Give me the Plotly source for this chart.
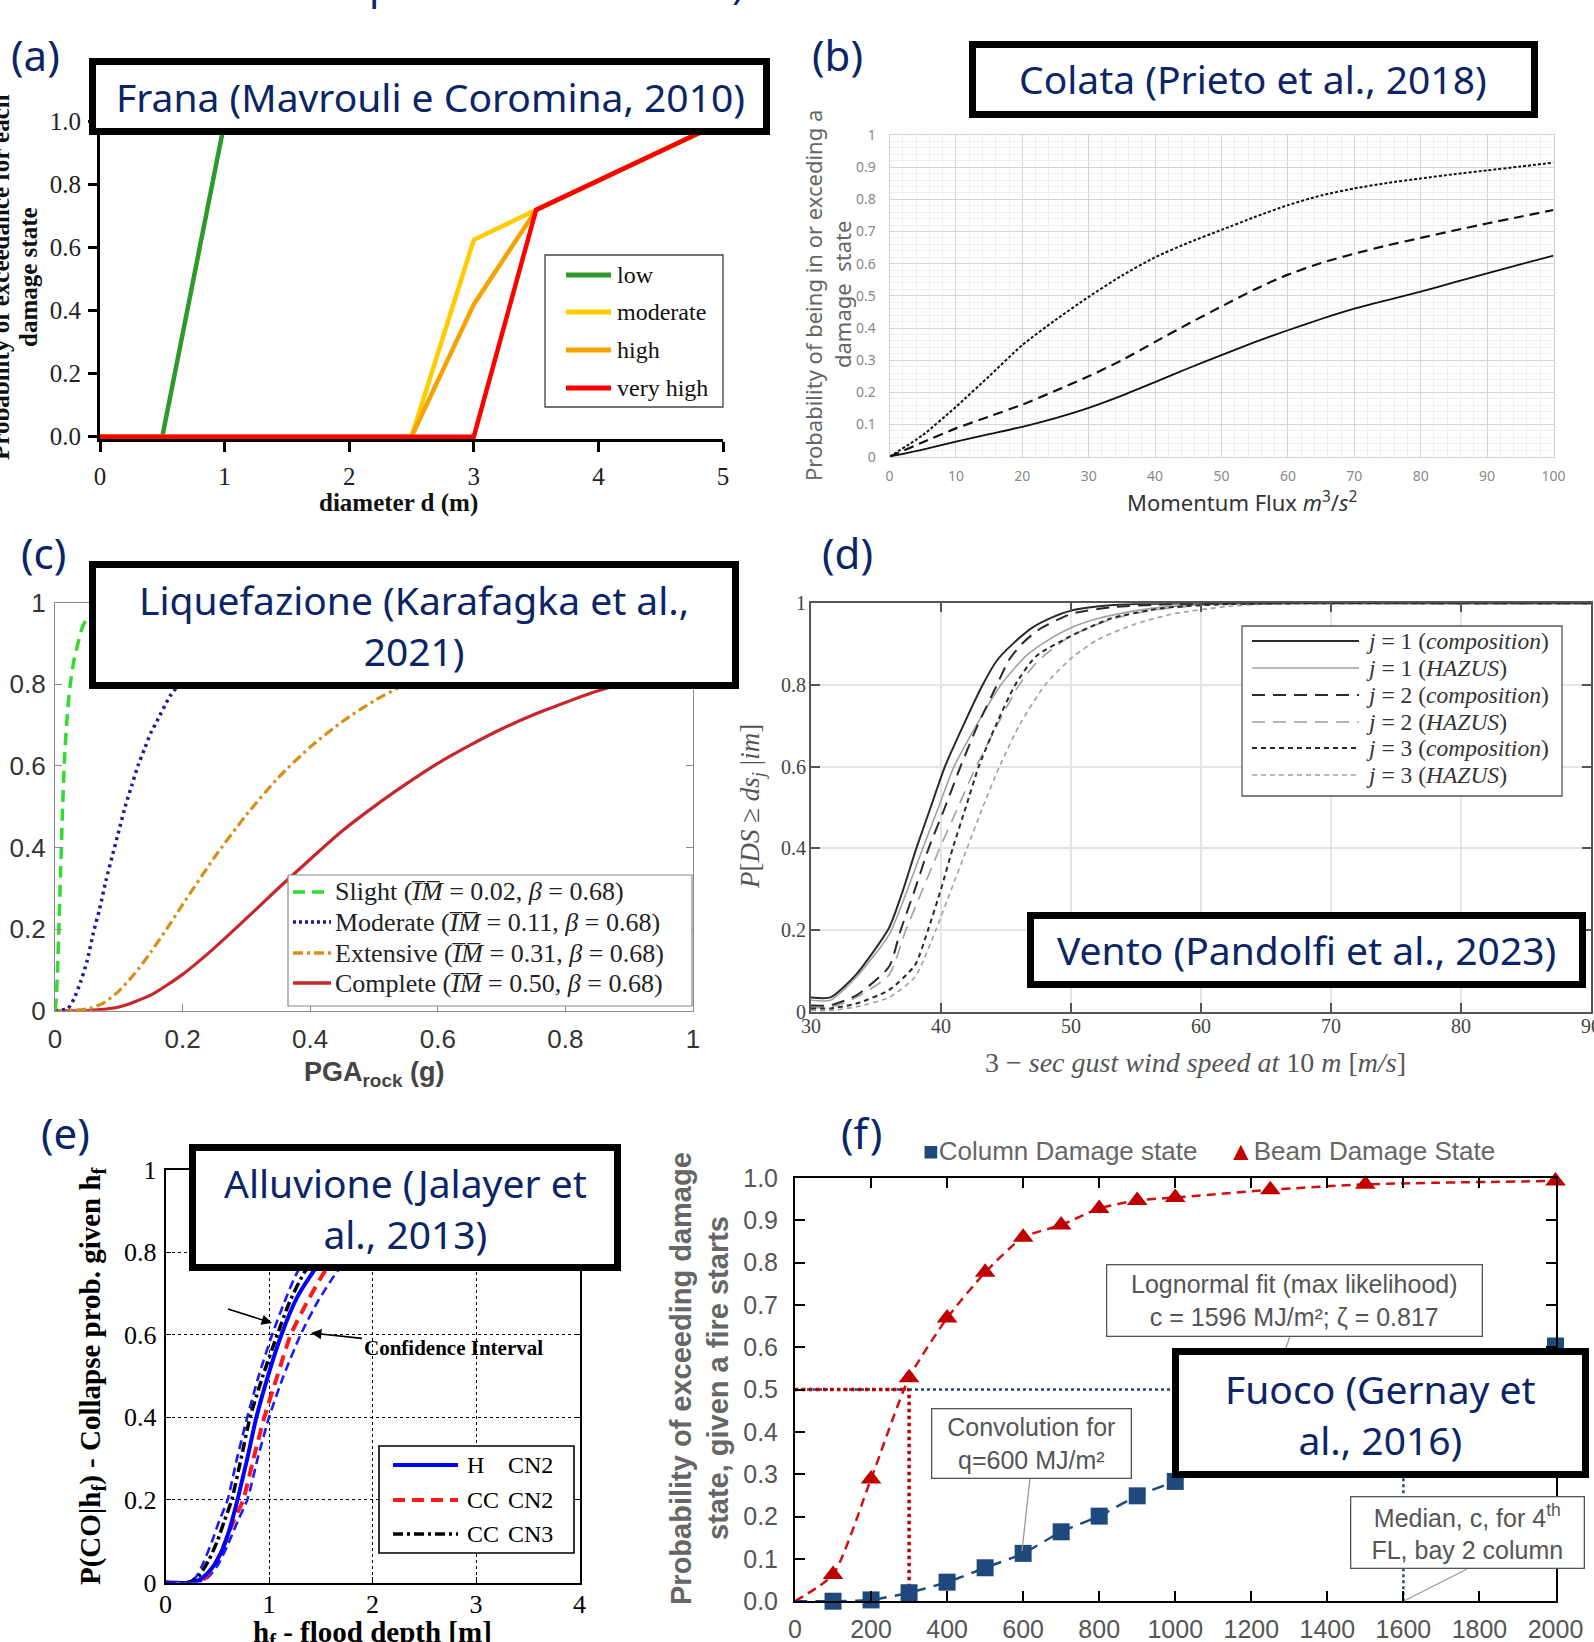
import plotly.graph_objects as go

W, H = 1594, 1642
NAVY = "#0b2566"
SERIF = "Liberation Serif, Times New Roman, serif"
SANS = "Liberation Sans, Arial, sans-serif"
TSANS = "Noto Sans, Open Sans, sans-serif"

# ======================= DATA =======================
# (a) Frana (Mavrouli e Coromina, 2010)
a_low_x = [0, 0.5, 1.0, 5.0]
a_low_y = [0.0, 0.0, 1.0, 1.0]
a_mod_x = [0, 2.5, 3.0, 3.5, 5.0]
a_mod_y = [0.0, 0.0, 0.625, 0.72, 1.0]
a_high_x = [0, 2.5, 3.0, 3.5, 5.0]
a_high_y = [0.0, 0.0, 0.42, 0.72, 1.0]
a_vhigh_x = [0, 3.0, 3.5, 5.0]
a_vhigh_y = [0.0, 0.0, 0.72, 1.0]
a_labels = ["low", "moderate", "high", "very high"]
a_colors = ["#2e9a2a", "#ffcc00", "#f5a300", "#ff0000"]

# (b) Colata (Prieto et al., 2018)
b_x = [0, 5, 10, 15, 20, 25, 30, 35, 40, 45, 50, 55, 60, 65, 70, 75, 80, 85, 90, 95, 100]
b_ds1 = [0, 0.022, 0.047, 0.07, 0.093, 0.12, 0.152, 0.19, 0.232, 0.275, 0.316, 0.356, 0.393,
         0.428, 0.46, 0.487, 0.513, 0.542, 0.57, 0.598, 0.625]
b_ds2 = [0, 0.045, 0.088, 0.125, 0.162, 0.205, 0.25, 0.3, 0.357, 0.413, 0.467, 0.52, 0.566,
         0.602, 0.631, 0.657, 0.68, 0.703, 0.725, 0.746, 0.767]
b_ds3 = [0, 0.067, 0.155, 0.25, 0.347, 0.425, 0.497, 0.563, 0.62, 0.665, 0.705, 0.745, 0.782,
         0.812, 0.834, 0.851, 0.865, 0.878, 0.89, 0.902, 0.914]

# (c) Liquefazione (Karafagka et al., 2021)
c_slight_x = [0, 0.002, 0.004, 0.006, 0.009, 0.012, 0.015, 0.019, 0.024, 0.03, 0.036, 0.043, 0.05, 0.06, 0.08, 0.1, 0.2, 1.0]
c_slight_y = [0, 0.03, 0.1, 0.2, 0.35, 0.5, 0.62, 0.72, 0.8, 0.86, 0.9, 0.94, 0.96, 0.975, 0.99, 0.995, 1.0, 1.0]
c_mod_x = [0, 0.02, 0.03, 0.04, 0.05, 0.06, 0.07, 0.08, 0.09, 0.1, 0.11, 0.12, 0.13, 0.14, 0.15, 0.16, 0.18, 0.2, 0.25, 0.3, 0.4, 1.0]
c_mod_y = [0, 0.005, 0.03, 0.07, 0.12, 0.19, 0.25, 0.32, 0.38, 0.44, 0.5, 0.55, 0.6, 0.64, 0.68, 0.71, 0.77, 0.81, 0.89, 0.93, 0.97, 1.0]
c_ext_x = [0, 0.05, 0.075, 0.1, 0.125, 0.15, 0.175, 0.2, 0.25, 0.3, 0.35, 0.4, 0.45, 0.5, 0.55, 0.6, 0.7, 0.8, 0.9, 1.0]
c_ext_y = [0, 0.004, 0.018, 0.048, 0.091, 0.143, 0.2, 0.26, 0.376, 0.48, 0.571, 0.646, 0.708, 0.759, 0.8, 0.83, 0.88, 0.915, 0.94, 0.955]
c_comp_x = [0, 0.05, 0.1, 0.15, 0.2, 0.25, 0.3, 0.35, 0.4, 0.45, 0.5, 0.55, 0.6, 0.65, 0.7, 0.75, 0.8, 0.85, 0.9, 0.95, 1.0]
c_comp_y = [0, 0.0004, 0.009, 0.038, 0.089, 0.154, 0.226, 0.3, 0.371, 0.44, 0.5, 0.555, 0.606, 0.65, 0.69, 0.725, 0.755, 0.783, 0.806, 0.827, 0.846]
c_labels = ["Slight (<i>I\u0305M\u0305</i> = 0.02, <i>\u03b2</i> = 0.68)",
            "Moderate (<i>I\u0305M\u0305</i> = 0.11, <i>\u03b2</i> = 0.68)",
            "Extensive (<i>I\u0305M\u0305</i> = 0.31, <i>\u03b2</i> = 0.68)",
            "Complete (<i>I\u0305M\u0305</i> = 0.50, <i>\u03b2</i> = 0.68)"]

# (d) Vento (Pandolfi et al., 2023)
d_j1c_x = [30, 31.5, 33.5, 36, 37, 38.1, 39.2, 40.3, 41.7, 43.2, 44.3, 45.5, 47, 48.5, 50, 52, 55, 60, 90]
d_j1c_y = [0.035, 0.035, 0.092, 0.205, 0.29, 0.4, 0.5, 0.6, 0.7, 0.8, 0.86, 0.9, 0.94, 0.965, 0.982, 0.992, 0.998, 1.0, 1.0]
d_j1h_x = [30, 31.5, 33.5, 36, 37.2, 38.6, 39.8, 41.0, 42.7, 44.6, 46.5, 48, 50, 52, 55, 58, 62, 90]
d_j1h_y = [0.028, 0.028, 0.085, 0.188, 0.28, 0.4, 0.5, 0.6, 0.7, 0.8, 0.87, 0.905, 0.94, 0.962, 0.982, 0.993, 0.999, 1.0]
d_j2c_x = [30, 31.5, 33.5, 36, 36.9, 38.0, 39.05, 40.3, 41.5, 42.8, 44.3, 45.2, 46.2, 47.5, 50, 53, 57, 62, 90]
d_j2c_y = [0.015, 0.016, 0.04, 0.11, 0.2, 0.3, 0.4, 0.5, 0.6, 0.7, 0.8, 0.86, 0.9, 0.935, 0.974, 0.99, 0.997, 1.0, 1.0]
d_j2h_x = [30, 31.5, 33.5, 36, 37.3, 38.6, 39.9, 41.3, 42.7, 44.3, 46.0, 47.5, 50, 53, 56, 60, 65, 90]
d_j2h_y = [0.01, 0.011, 0.035, 0.09, 0.2, 0.3, 0.4, 0.5, 0.6, 0.7, 0.8, 0.86, 0.92, 0.96, 0.982, 0.995, 1.0, 1.0]
d_j3c_x = [30, 31.5, 33.5, 36, 38, 39.0, 40.0, 40.9, 41.9, 42.9, 44.2, 45.7, 47.3, 50, 53, 57, 62, 90]
d_j3c_y = [0.008, 0.008, 0.02, 0.053, 0.114, 0.2, 0.3, 0.4, 0.5, 0.6, 0.7, 0.8, 0.87, 0.92, 0.962, 0.988, 0.998, 1.0]
d_j3h_x = [30, 31.5, 33.5, 36, 38, 39.6, 40.8, 42.0, 43.2, 44.5, 46.0, 48.0, 50, 52, 55, 58, 62, 66, 90]
d_j3h_y = [0.003, 0.003, 0.012, 0.035, 0.085, 0.2, 0.3, 0.4, 0.5, 0.6, 0.7, 0.8, 0.865, 0.91, 0.95, 0.975, 0.992, 1.0, 1.0]
d_labels = ["<i>j</i> = 1 (<i>composition</i>)", "<i>j</i> = 1 (<i>HAZUS</i>)",
            "<i>j</i> = 2 (<i>composition</i>)", "<i>j</i> = 2 (<i>HAZUS</i>)",
            "<i>j</i> = 3 (<i>composition</i>)", "<i>j</i> = 3 (<i>HAZUS</i>)"]

# (e) Alluvione (Jalayer et al., 2013)
e_h_x = [0, 0.25, 0.35, 0.45, 0.55, 0.62, 0.695, 0.79, 0.878, 0.99, 1.12, 1.27, 1.42, 1.6, 1.8, 2.1, 2.5, 3, 4]
e_h_y = [0, 0, 0.01, 0.035, 0.08, 0.13, 0.2, 0.3, 0.4, 0.5, 0.6, 0.69, 0.75, 0.81, 0.86, 0.91, 0.95, 0.975, 0.995]
e_lo_x = [0, 0.22, 0.3, 0.37, 0.45, 0.52, 0.6, 0.69, 0.79, 0.9, 1.03, 1.15, 1.27, 1.45, 1.7, 2.0, 2.5, 3, 4]
e_lo_y = [0, 0, 0.015, 0.05, 0.1, 0.15, 0.2, 0.3, 0.4, 0.5, 0.6, 0.68, 0.75, 0.82, 0.88, 0.93, 0.97, 0.985, 0.998]
e_hi_x = [0, 0.3, 0.4, 0.5, 0.6, 0.7, 0.79, 0.89, 1.0, 1.14, 1.305, 1.47, 1.65, 1.9, 2.2, 2.6, 3, 4]
e_hi_y = [0, 0, 0.01, 0.04, 0.09, 0.15, 0.2, 0.3, 0.4, 0.5, 0.6, 0.68, 0.75, 0.82, 0.88, 0.93, 0.96, 0.99]
e_cc2_x = [0, 0.28, 0.38, 0.48, 0.58, 0.66, 0.75, 0.85, 0.955, 1.08, 1.21, 1.37, 1.53, 1.75, 2.0, 2.4, 3, 4]
e_cc2_y = [0, 0, 0.01, 0.045, 0.1, 0.15, 0.2, 0.3, 0.4, 0.5, 0.6, 0.68, 0.75, 0.82, 0.87, 0.93, 0.97, 0.99]
e_cc3_x = [0, 0.22, 0.32, 0.42, 0.5, 0.57, 0.64, 0.73, 0.817, 0.94, 1.08, 1.2, 1.34, 1.55, 1.8, 2.2, 2.8, 4]
e_cc3_y = [0, 0, 0.015, 0.055, 0.1, 0.15, 0.2, 0.3, 0.4, 0.5, 0.6, 0.68, 0.75, 0.82, 0.88, 0.93, 0.97, 0.995]

# (f) Fuoco (Gernay et al., 2016)
f_x = [100, 200, 300, 400, 500, 600, 700, 800, 900, 1000, 1250, 1500, 2000]
f_beam = [0.063, 0.289, 0.528, 0.669, 0.777, 0.86, 0.889, 0.928, 0.947, 0.954, 0.972, 0.985, 0.993]
f_col = [0.0, 0.003, 0.02, 0.045, 0.079, 0.113, 0.164, 0.201, 0.249, 0.283, 0.37, 0.47, 0.603]
f_median_beam = 300
f_median_col = 1600
f_half = 0.5

# ======================= HELPERS =======================
def PX(x):
    return x / W


def PY(y):
    return 1 - y / H


def dom(p0, v0, p1, v1, lo, hi, vertical=False):
    s = (p1 - p0) / (v1 - v0)
    a = p0 + (lo - v0) * s
    b = p0 + (hi - v0) * s
    if vertical:
        return sorted([PY(a), PY(b)])
    return sorted([PX(a), PX(b)])


annotations = []
shapes = []


def ann(text, x, y, size, color="#000", family=SERIF, xanchor="center", yanchor="middle", angle=0, **kw):
    d = dict(text=text, x=PX(x), y=PY(y), xref="paper", yref="paper", showarrow=False,
             font=dict(size=size, color=color, family=family), xanchor=xanchor, yanchor=yanchor,
             textangle=angle)
    d.update(kw)
    annotations.append(d)


def seg(x0, x1, y0, y1, color, width, dash="solid"):
    shapes.append(dict(type="line", xref="paper", yref="paper", x0=PX(x0), x1=PX(x1), y0=PY(y0), y1=PY(y1),
                       line=dict(color=color, width=width, dash=dash), layer="above"))


def rect(x0, x1, y0, y1, color, width, fill="white"):
    shapes.append(dict(type="rect", xref="paper", yref="paper", x0=PX(x0), x1=PX(x1), y0=PY(y1), y1=PY(y0),
                       line=dict(color=color, width=width), fillcolor=fill, layer="above"))


def tbox(x0, x1, y0, y1, lw=7):
    h = lw / 2
    rect(x0 + h, x1 - h, y0 + h, y1 - h, "black", lw)


fig = go.Figure()


def line(x, y, ax, color, width, dash="solid", shape="linear", name=""):
    fig.add_trace(go.Scatter(x=x, y=y, xaxis="x" + ax, yaxis="y" + ax, mode="lines", name=name,
                             line=dict(color=color, width=width, dash=dash, shape=shape,
                                       smoothing=0.6 if shape == "spline" else None),
                             showlegend=False, hoverinfo="skip"))

# ======================= TRACES =======================
# (a)
line(a_low_x, a_low_y, "", a_colors[0], 4.5, name=a_labels[0])
line(a_mod_x, a_mod_y, "", a_colors[1], 4.5, name=a_labels[1])
line(a_high_x, a_high_y, "", a_colors[2], 4.5, name=a_labels[2])
line(a_vhigh_x, a_vhigh_y, "", a_colors[3], 4.5, name=a_labels[3])

# (b)
line(b_x, b_ds1, "2", "#111", 1.8, "solid", "spline")
line(b_x, b_ds2, "2", "#111", 2.2, "10px,6px", "spline")
line(b_x, b_ds3, "2", "#111", 2.0, "3px,2px", "spline")

# (c)
line(c_comp_x, c_comp_y, "3", "#c8262c", 3.2, "solid", "spline", c_labels[3])
line(c_ext_x, c_ext_y, "3", "#d6901a", 3.2, "10px,4px,3px,4px", "spline", c_labels[2])
line(c_mod_x, c_mod_y, "3", "#1c1c9c", 3.5, "3px,4px", "spline", c_labels[1])
line(c_slight_x, c_slight_y, "3", "#2fdc2f", 3.5, "12px,7px", "spline", c_labels[0])

# (d)
DK, LT = "#2a2a2a", "#a0a0a0"
line(d_j3h_x, d_j3h_y, "4", LT, 1.6, "5px,4px", "spline", d_labels[5])
line(d_j2h_x, d_j2h_y, "4", LT, 1.6, "13px,8px", "spline", d_labels[3])
line(d_j1h_x, d_j1h_y, "4", LT, 1.6, "solid", "spline", d_labels[1])
line(d_j3c_x, d_j3c_y, "4", DK, 2.0, "5px,4px", "spline", d_labels[4])
line(d_j2c_x, d_j2c_y, "4", DK, 2.0, "13px,8px", "spline", d_labels[2])
line(d_j1c_x, d_j1c_y, "4", DK, 2.0, "solid", "spline", d_labels[0])

# (e)
line(e_lo_x, e_lo_y, "5", "#1a1aff", 2.6, "9px,5px", "spline")
line(e_hi_x, e_hi_y, "5", "#1a1aff", 2.6, "9px,5px", "spline")
line(e_cc2_x, e_cc2_y, "5", "#ff1a1a", 4, "12px,7px", "spline", "CC CN2")
line(e_cc3_x, e_cc3_y, "5", "#000000", 3.5, "10px,4px,3px,4px", "spline", "CC CN3")
line(e_h_x, e_h_y, "5", "#0000ff", 4, "solid", "spline", "H CN2")

# (f)
line([f_median_col, f_median_col], [0, f_half], "6", "#1f497d", 2.5, "dot")
line([0, f_median_col], [f_half, f_half], "6", "#1f497d", 2.5, "dot")
line([0, f_median_beam], [f_half, f_half], "6", "#c00000", 3.5, "dot")
line([f_median_beam, f_median_beam], [0, f_half], "6", "#c00000", 3.5, "dot")
line([0] + f_x, [0] + f_beam, "6", "#d01010", 2.5, "9px,6px", "spline")
line([0] + f_x, [0] + f_col, "6", "#1f497d", 2.5, "12px,8px", "spline")
fig.add_trace(go.Scatter(x=f_x, y=f_col, xaxis="x6", yaxis="y6", mode="markers", name="Column Damage state",
                         marker=dict(symbol="square", size=17, color="#1f497d"), cliponaxis=False,
                         showlegend=False, hoverinfo="skip"))
fig.add_trace(go.Scatter(x=f_x, y=f_beam, xaxis="x6", yaxis="y6", mode="markers", name="Beam Damage State",
                         marker=dict(symbol="triangle-up", size=18, color="#c00000"), cliponaxis=False,
                         showlegend=False, hoverinfo="skip"))

# ======================= AXES =======================
lay = {}
# (a)
lay["xaxis"] = dict(domain=dom(100, 0, 723, 5, 0, 5), range=[0, 5], anchor="y", tickvals=[0, 1, 2, 3, 4, 5],
                    ticks="outside", ticklen=10, tickwidth=2.5, tickcolor="#000", showline=True, linecolor="#000",
                    linewidth=3, showgrid=False, zeroline=False, layer="below traces", ticklabelstandoff=3,
                    automargin=False, tickfont=dict(family=SERIF, size=25, color="#222"))
lay["yaxis"] = dict(domain=dom(436.7, 0, 121.7, 1, -0.008, 1.0, True), range=[-0.008, 1.0], anchor="x",
                    tickvals=[0, 0.2, 0.4, 0.6, 0.8, 1.0], tickformat=".1f",
                    ticks="outside", ticklen=9, tickwidth=2.5, tickcolor="#000", showline=True, linecolor="#000",
                    linewidth=3, showgrid=False, zeroline=False, layer="below traces", ticklabelstandoff=2,
                    automargin=False, tickfont=dict(family=SERIF, size=25, color="#222"))
# (b)
bgrid = dict(showgrid=True, gridcolor="#d6d6d6", gridwidth=1, showline=True, linecolor="#d0d0d0", mirror=True,
             zeroline=False, ticks="", automargin=False, tickfont=dict(family=TSANS, size=14, color="#888"))
lay["xaxis2"] = dict(domain=dom(889.5, 0, 1553.5, 100, 0, 100), range=[0, 100], anchor="y2", dtick=10,
                     minor=dict(dtick=2, showgrid=True, gridcolor="#efefef", gridwidth=1),
                     ticklabelstandoff=6, **bgrid)
lay["yaxis2"] = dict(domain=dom(456.7, 0, 135, 1, 0, 1, True), range=[0, 1], anchor="x2", dtick=0.1,
                     minor=dict(dtick=0.02, showgrid=True, gridcolor="#efefef", gridwidth=1),
                     ticklabelstandoff=10, **bgrid)
# (c)
cax = dict(showgrid=False, zeroline=False, showline=True, linecolor="#8a8a8a", linewidth=1.2, mirror="ticks",
           ticks="inside", ticklen=7, tickcolor="#8a8a8a", automargin=False, ticklabeloverflow="allow",
           tickfont=dict(family=SANS, size=26, color="#333"))
lay["xaxis3"] = dict(domain=dom(55, 0, 693, 1, 0, 1), range=[0, 1], anchor="y3", dtick=0.2,
                     ticklabelstandoff=5, **cax)
lay["yaxis3"] = dict(domain=dom(1010.7, 0, 602.5, 1, 0, 1, True), range=[0, 1], anchor="x3", dtick=0.2,
                     ticklabelstandoff=3, **cax)
# (d)
dax = dict(showgrid=True, gridcolor="#e4e4e4", gridwidth=1.5, zeroline=False, showline=True, linecolor="#555",
           linewidth=1.8, mirror="ticks", ticks="inside", ticklen=9, tickcolor="#555", tickwidth=1.5,
           automargin=False, ticklabeloverflow="allow", tickfont=dict(family=SERIF, size=20, color="#444"))
lay["xaxis4"] = dict(domain=dom(811, 30, 1591, 90, 30, 90), range=[30, 90], anchor="y4", dtick=10,
                     ticklabelstandoff=-5, **dax)
lay["yaxis4"] = dict(domain=dom(1011.7, 0, 603.3, 1, 0, 1, True), range=[0, 1], anchor="x4", dtick=0.2,
                     ticklabelstandoff=-1, **dax)
# (e)
eax = dict(showgrid=True, gridcolor="#000", gridwidth=1.3, griddash="dot", zeroline=False, showline=True,
           linecolor="#000", linewidth=1.8, mirror="ticks", ticks="inside", ticklen=6, tickcolor="#000",
           automargin=False, tickfont=dict(family=SERIF, size=26, color="#000"))
lay["xaxis5"] = dict(domain=dom(165.5, 0, 579.5, 4, 0, 4), range=[0, 4], anchor="y5", dtick=1,
                     ticklabelstandoff=-3, **eax)
lay["yaxis5"] = dict(domain=dom(1582.5, 0, 1169.6, 1, 0, 1, True), range=[0, 1], anchor="x5", dtick=0.2,
                     ticklabelstandoff=2, **eax)
# (f)
fax = dict(showgrid=False, zeroline=False, showline=True, linecolor="#000", linewidth=2, mirror="ticks",
           ticks="inside", ticklen=10, tickwidth=2, tickcolor="#000", automargin=False,
           ticklabeloverflow="allow", tickfont=dict(family=SANS, size=25, color="#555"))
lay["xaxis6"] = dict(domain=dom(795, 0, 1555.5, 2000, 0, 2000), range=[0, 2000], anchor="y6", dtick=200,
                     ticklabelstandoff=5, **fax)
lay["yaxis6"] = dict(domain=dom(1601.2, 0, 1178, 1, 0, 1, True), range=[0, 1], anchor="x6", dtick=0.1,
                     tickformat=".1f", ticklabelstandoff=10, **fax)

# ======================= LEGENDS (drawn boxes) =======================
# (f) leader lines (under the title box)
seg(1290, 1268, 1336, 1400, "#9a9a9a", 1.3)
seg(1030, 1022, 1478, 1551, "#9a9a9a", 1.3)
seg(1467, 1404, 1569, 1601, "#9a9a9a", 1.3)

# (a) legend
rect(545, 723, 255, 407, "#444", 1.3)
for i, yy in enumerate([275, 312, 350, 388]):
    seg(566, 611, yy, yy, a_colors[i], 5)
    ann(a_labels[i], 615, yy, 24, "#111", SERIF, xanchor="left")

# (c) legend
rect(288, 692, 875, 1006, "#8a8a8a", 1.2)
c_leg = [("#2fdc2f", 3.5, "12px,7px"), ("#1c1c9c", 3.5, "3px,3px"),
         ("#d6901a", 3.5, "10px,4px,3px,4px"), ("#c8262c", 3.5, "solid")]
for i, yy in enumerate([892, 922, 953, 983]):
    col, wd, ds = c_leg[i]
    seg(293, 331, yy, yy, col, wd, ds)
    ann(c_labels[i], 333, yy, 26, "#222", SERIF, xanchor="left")

# (d) legend
rect(1242, 1562, 626, 796, "#555", 1.3)
d_leg = [(DK, 2.0, "solid"), (LT, 1.6, "solid"), (DK, 2.0, "13px,8px"), (LT, 1.6, "13px,8px"),
         (DK, 2.0, "5px,4px"), (LT, 1.6, "5px,4px")]
for i, yy in enumerate([641, 668, 695, 722, 748, 775]):
    col, wd, ds = d_leg[i]
    seg(1252, 1359, yy, yy, col, wd, ds)
    ann(d_labels[i], 1364, yy, 23.5, "#333", SERIF, xanchor="left")

# (e) legend
rect(379, 574, 1446, 1553, "#000", 1.6)
e_leg = [("#0000ff", 4, "solid", "H"), ("#ff1a1a", 4, "12px,7px", "CC"), ("#000", 3.5, "10px,4px,3px,4px", "CC")]
for i, yy in enumerate([1465, 1500, 1534]):
    col, wd, ds, t = e_leg[i]
    seg(393, 458, yy, yy, col, wd, ds)
    ann(t, 465, yy, 24, "#000", SERIF, xanchor="left")
    ann(["CN2", "CN2", "CN3"][i], 506, yy, 24, "#000", SERIF, xanchor="left")

# ======================= TITLE BOXES =======================
tbox(89, 770, 58, 135)
tbox(969, 1538, 41, 118)
tbox(89, 739, 561, 689)
tbox(1027, 1586, 912, 988)
tbox(189, 621, 1144, 1271)
tbox(1172, 1589, 1348, 1478)

ann("Frana (Mavrouli e Coromina, 2010)", 430, 96, 39, NAVY, TSANS)
ann("Colata (Prieto et al., 2018)", 1253, 79, 39, NAVY, TSANS)
ann("Liquefazione (Karafagka et al.,<br>2021)", 414, 625, 39, NAVY, TSANS)
ann("Vento (Pandolfi et al., 2023)", 1306, 950, 39, NAVY, TSANS)
ann("Alluvione (Jalayer et<br>al., 2013)", 405, 1208, 39, NAVY, TSANS)
ann("Fuoco (Gernay et<br>al., 2016)", 1380, 1414, 39, NAVY, TSANS)

# panel letters
for t, x, y in [("(a)", 35, 54), ("(b)", 838, 54), ("(c)", 43, 553), ("(d)", 847, 553),
                ("(e)", 65, 1132), ("(f)", 861, 1132)]:
    ann(t, x, y, 42, NAVY, TSANS)

# cut-off heading fragments at the very top
ann("p", 381, 13, 40, NAVY, TSANS, yanchor="bottom")
ann(")", 738, 13, 40, NAVY, TSANS, yanchor="bottom")

# ======================= AXIS TITLES =======================
# (a)
ann("<b>diameter d (m)</b>", 398, 503, 25, "#111", SERIF)
ann("<b>Probability of exceedance for each</b>", 1, 277, 25, "#111", SERIF, angle=-90)
ann("<b>damage state</b>", 29, 277, 25, "#111", SERIF, angle=-90)
# (b)
ann("Momentum Flux <i>m</i><sup>3</sup>/<i>s</i><sup>2</sup>", 1242, 501, 22, "#333", TSANS)
ann("Probability of being in or exceding a", 813, 296, 22, "#666", TSANS, angle=-90)
ann("damage  state", 842, 295, 22, "#666", TSANS, angle=-90)
# (c)
ann("<b>PGA<sub>rock</sub> (g)</b>", 374, 1074, 27, "#444", SANS)
# (d)
ann("3 \u2212 <i>sec gust wind speed at</i> 10 <i>m</i> [<i>m/s</i>]", 1195, 1062, 28, "#555", SERIF)
ann("<i>P</i>[<i>DS</i> \u2265 <i>ds<sub>j</sub></i> |<i>im</i>]", 752, 807, 27, "#555", SERIF, angle=-90)
# (e)
ann("<b>P(CO|h<sub>f</sub>) - Collapse prob. given h<sub>f</sub></b>", 92, 1376, 29, "#000", SERIF, angle=-90)
ann("<b>h<sub>f</sub> - flood depth [m]</b>", 372, 1634, 29, "#000", SERIF)
ann("<b>Confidence Interval</b>", 311, 1333, 21, "#000", SERIF, showarrow=True, arrowhead=2, arrowsize=1.3,
    arrowwidth=1.6, arrowcolor="#000", ax=142, ay=15)
ann(" ", 272, 1323, 10, "#000", SERIF, showarrow=True, arrowhead=2, arrowsize=1.3,
    arrowwidth=1.6, arrowcolor="#000", ax=-47, ay=-15)
# (f)
ann("<b>Probability of exceeding damage</b>", 681, 1379, 29, "#666", SANS, angle=-90)
ann("<b>state, given a fire starts</b>", 718, 1378, 29, "#666", SANS, angle=-90)
ann('<span style="color:#1f497d">\u25a0</span>Column Damage state', 921, 1151, 26, "#666", SANS, xanchor="left")
ann('<span style="color:#c00000">\u25b2</span>Beam Damage State', 1226, 1151, 26, "#666", SANS, xanchor="left")
ann("Lognormal fit (max likelihood)<br>c = 1596 MJ/m\u00b2; \u03b6 = 0.817", 1294, 1300, 25, "#555", SANS,
    bordercolor="#555", borderwidth=1.3, bgcolor="white", width=370, height=66, borderpad=2)
ann("Convolution for<br>q=600 MJ/m\u00b2", 1031, 1443, 25, "#555", SANS,
    bordercolor="#555", borderwidth=1.3, bgcolor="white", width=194, height=64, borderpad=2)
ann("Median, c, for 4<sup>th</sup><br>FL, bay 2 column", 1467, 1532, 25, "#555", SANS,
    bordercolor="#555", borderwidth=1.3, bgcolor="white", width=228, height=66, borderpad=2)

fig.update_layout(width=W, height=H, autosize=False, margin=dict(l=0, r=0, t=0, b=0, autoexpand=False),
                  paper_bgcolor="white", plot_bgcolor="white", showlegend=False,
                  annotations=annotations, shapes=shapes, **lay)

fig.write_html("out.html", config={"displayModeBar": False},
               post_script="document.body.style.margin='0';document.body.style.overflow='hidden';")
